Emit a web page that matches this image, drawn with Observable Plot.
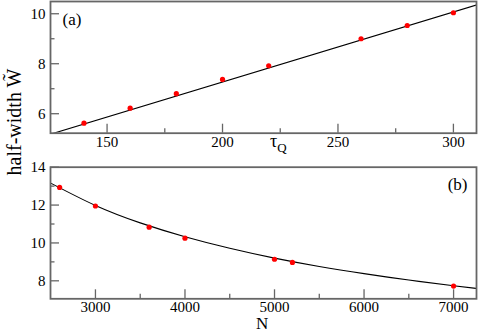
<!DOCTYPE html>
<html>
<head>
<meta charset="utf-8">
<script src="https://cdn.jsdelivr.net/npm/d3@7"></script>
<script src="https://cdn.jsdelivr.net/npm/@observablehq/plot@0.6"></script>
<style>
  body { margin: 0; background: #fff; }
  #wrap { position: relative; width: 478px; height: 331px; overflow: hidden; font-family: "Liberation Serif", serif; }
  #wrap svg { position: absolute; left: 0; }
  .lab { position: absolute; white-space: nowrap; line-height: 15px; color: #000; }
</style>
</head>
<body>
<div id="wrap">
  <div class="lab" id="ylab" style="left:14px; top:122px; font-size:20px; line-height:20px; transform: translate(-50%,-50%) rotate(-90deg);">half-width W&#771;</div>
  <div class="lab" style="left:270px; top:134px; font-size:18px;">&tau;<span style="font-size:13px; position:relative; top:5px;">Q</span></div>
  <div class="lab" style="left:256px; top:316.5px; font-size:17px; line-height:14px;">N</div>
</div>
<script>
// Panel (a): half-width vs quench time tau_Q
const tauQ   = [140, 160, 180, 200, 220, 260, 280, 300];
const widthA = [5.62, 6.22, 6.80, 7.37, 7.92, 9.00, 9.53, 10.04];
const fitAx  = [125.5, 310];
const fitAy  = [5.18, 10.35];
const xTicksA = [150, 200, 250, 300];
const xMinorA = [175, 225, 275];
const yTicksA = [6, 8, 10];
const yMinorA = [7, 9];

// Panel (b): half-width vs system size N
const sizeN  = [2600, 3000, 3600, 4000, 5000, 5200, 7000];
const widthB = [12.93, 11.95, 10.83, 10.25, 9.14, 8.97, 7.72];
const fitBx  = [2500, 3000, 3500, 4000, 4500, 5000, 5500, 6000, 6500, 7000, 7250];
const fitBy  = [13.16, 11.98, 11.06, 10.33, 9.72, 9.20, 8.76, 8.38, 8.04, 7.74, 7.60];
const xTicksB = [3000, 4000, 5000, 6000, 7000];
const xMinorB = [3500, 4500, 5500, 6500];
const yTicksB = [8, 10, 12, 14];
const yMinorB = [9, 11, 13];

const W = 478;
const frameColor = "#666";

function panel({height, mt, mb, xdom, ydom, px, py, lx, ly, curve, xt, xm, yt, ym, tag, tagAnchor, tagDx, tagDy}) {
  const ml = 50, mr = 2;
  const fh = height - mt - mb;
  const fw = W - ml - mr;
  return Plot.plot({
    width: W, height,
    marginLeft: ml, marginRight: mr, marginTop: mt, marginBottom: mb,
    x: {domain: xdom},
    y: {domain: ydom},
    style: {fontFamily: "'Liberation Serif', serif", fontSize: "15px", color: "#000", background: "transparent", overflow: "visible"},
    marks: [
      Plot.line(lx.map((x, i) => ({x, y: ly[i]})), {x: "x", y: "y", stroke: "#000", strokeWidth: 1.1, curve, clip: true}),
      Plot.dot(px.map((x, i) => ({x, y: py[i]})), {x: "x", y: "y", r: 2.6, fill: "#f00", stroke: "none"}),
      Plot.tickX(xt, {x: d => d, stroke: frameColor, strokeWidth: 1.3, insetTop: fh - 9}),
      Plot.tickX(xm, {x: d => d, stroke: frameColor, strokeWidth: 1.3, insetTop: fh - 4.5}),
      Plot.tickY(yt, {y: d => d, stroke: frameColor, strokeWidth: 1.3, insetRight: fw - 9}),
      Plot.tickY(ym, {y: d => d, stroke: frameColor, strokeWidth: 1.3, insetRight: fw - 4.5}),
      Plot.axisX({ticks: xt, tickSize: 0, tickPadding: 3, label: null, tickFormat: d => String(d)}),
      Plot.axisY({ticks: yt, tickSize: 0, tickPadding: 5, label: null, tickFormat: d => String(d)}),
      Plot.frame({stroke: frameColor, strokeWidth: 1.8}),
      Plot.text([tag], {frameAnchor: tagAnchor, dx: tagDx, dy: tagDy, fontSize: 17, fill: "#000"})
    ]
  });
}

const p1 = panel({
  height: 160, mt: 1, mb: 27.3,
  xdom: [125.5, 310], ydom: [5.22, 10.49],
  px: tauQ, py: widthA, lx: fitAx, ly: fitAy, curve: "linear",
  xt: xTicksA, xm: xMinorA, yt: yTicksA, ym: yMinorA,
  tag: "(a)", tagAnchor: "top-left", tagDx: 12, tagDy: 11
});
p1.style.top = "0px";

const p2 = panel({
  height: 181, mt: 16.7, mb: 32.7,
  xdom: [2498, 7256], ydom: [7.05, 14],
  px: sizeN, py: widthB, lx: fitBx, ly: fitBy, curve: "natural",
  xt: xTicksB, xm: xMinorB, yt: yTicksB, ym: yMinorB,
  tag: "(b)", tagAnchor: "top-right", tagDx: -9, tagDy: 11
});
p2.style.top = "150px";

const wrap = document.getElementById("wrap");
wrap.insertBefore(p2, wrap.firstChild);
wrap.insertBefore(p1, wrap.firstChild);
</script>
</body>
</html>
